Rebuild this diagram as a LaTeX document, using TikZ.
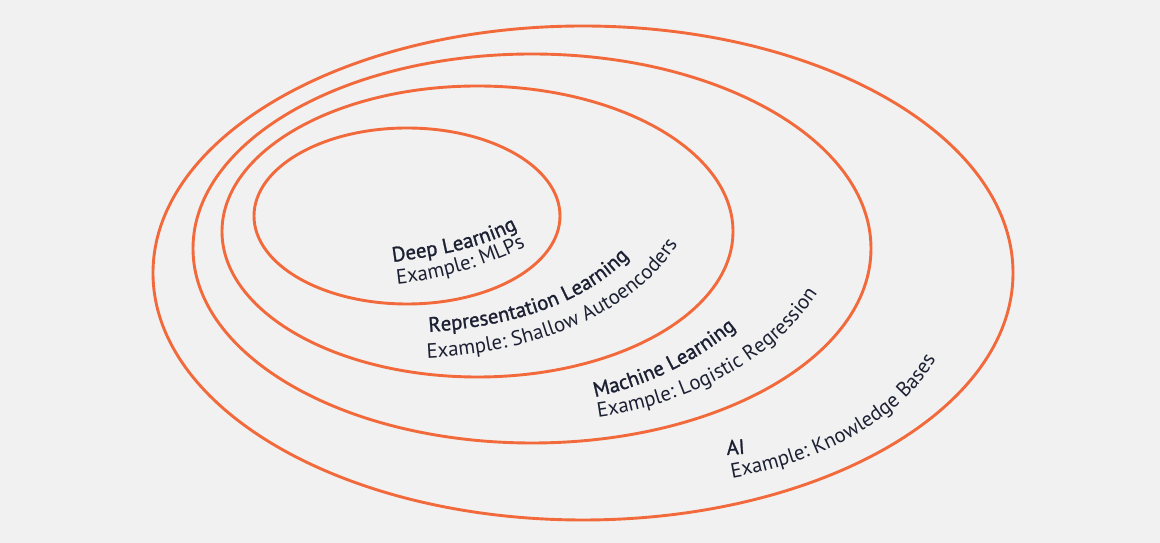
\documentclass[tikz,border=0pt]{standalone}
\usepackage{fontspec}
\setmainfont{PT Sans}
\newfontfamily\hfont[FakeBold=1.2]{PT Sans}
\usetikzlibrary{decorations.text}
\definecolor{ringc}{HTML}{F26A3B}
\definecolor{bgc}{HTML}{F1F1F1}
\definecolor{ink}{HTML}{1C2033}
\newcommand\hs{\hfont\fontsize{20.8}{20.8}\selectfont}
\newcommand\rs{\fontsize{20.8}{20.8}\selectfont}
\tikzset{
  ringline/.style={draw=ringc, line width=2.9pt},
  lbl/.style={decorate, decoration={text along path, text color=ink, text={#1}}},
}
\begin{document}
\begin{tikzpicture}[x=1pt, y=1pt]
  \fill[bgc] (0,0) rectangle (1160,543);
  \useasboundingbox (0,0) rectangle (1160,543);
  % rings
  \draw[ringline] (583,270) ellipse [x radius=430, y radius=247];
  \draw[ringline] (532,294.5) ellipse [x radius=339, y radius=194.5];
  \draw[ringline] (477.5,311.5) ellipse [x radius=255.5, y radius=145.5];
  \draw[ringline] (407,327) ellipse [x radius=153, y radius=88];
  % Deep Learning
  \path[lbl={|\hs|Deep Learning}] (393,281) .. controls +(8:43) and +(208:43) .. (517,314) -- +(28:60);
  \path[lbl={|\rs|Example: MLPs}] (397,259) .. controls +(6:43) and +(205:43) .. (521,294) -- +(25:60);
  % Representation Learning
  \path[lbl={|\hs|Representation Learning}] (429,211) .. controls +(4:75) and +(228:75) .. (634,291) -- +(48:60);
  \path[lbl={|\rs|Example: Shallow Autoencoders}] (427,185) .. controls +(3:90) and +(235:90) .. (673,292) -- +(55:60);
  % Machine Learning
  \path[lbl={|\hs|Machine Learning}] (595,146) .. controls +(12:55) and +(220:55) .. (739,217) -- +(40:60);
  \path[lbl={|\rs|Example: Logistic Regression}] (598,126) .. controls +(8:82) and +(235:82) .. (813,243) -- +(55:60);
  % AI
  \path[lbl={|\hs|AI}] (727,88) -- +(4:80);
  \path[lbl={|\rs|Example: Knowledge Bases}] (732,65) .. controls +(10:77) and +(238:77) .. (933,179) -- +(58:60);
\end{tikzpicture}
\end{document}
